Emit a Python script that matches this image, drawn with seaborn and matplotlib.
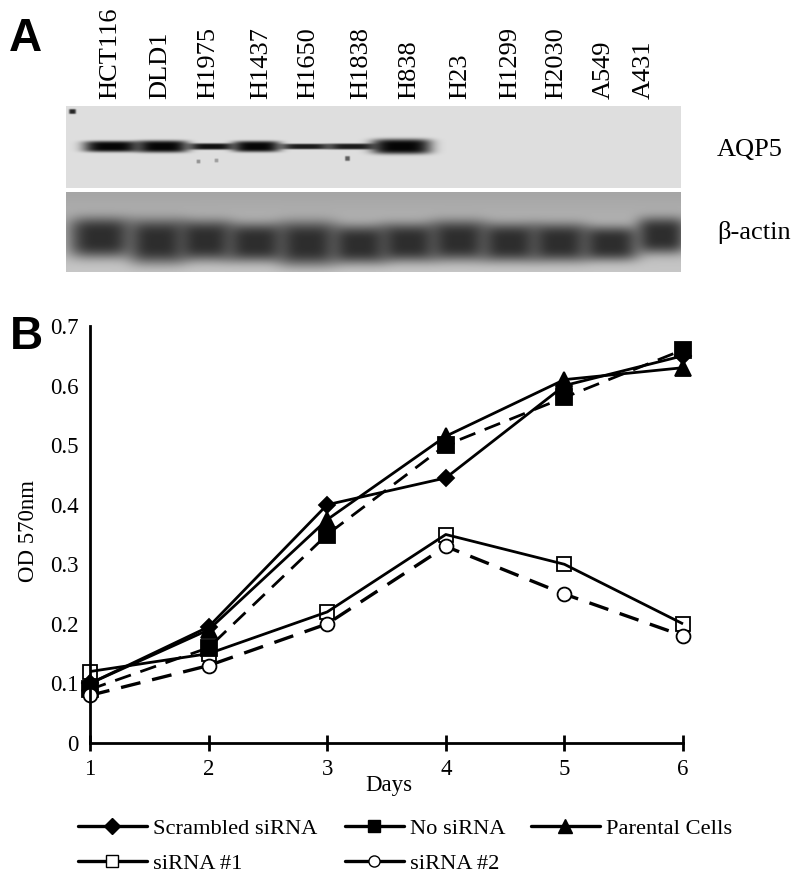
import numpy as np
import pandas as pd
import matplotlib
matplotlib.use('Agg')
import matplotlib.pyplot as plt
from matplotlib.lines import Line2D
import seaborn as sns

# growth curve values
days = [1, 2, 3, 4, 5, 6]
scrambled = [0.10, 0.195, 0.40, 0.445, 0.60, 0.65]
no_sirna = [0.09, 0.16, 0.35, 0.50, 0.58, 0.66]
parental = [0.10, 0.19, 0.375, 0.515, 0.61, 0.63]
sirna_1 = [0.12, 0.15, 0.22, 0.35, 0.30, 0.20]
sirna_2 = [0.08, 0.13, 0.20, 0.33, 0.25, 0.18]
y_ticks = [0, 0.1, 0.2, 0.3, 0.4, 0.5, 0.6, 0.7]
y_labels = ['0', '0.1', '0.2', '0.3', '0.4', '0.5', '0.6', '0.7']

# blot lanes of panel A
lanes = ['HCT116', 'DLD1', 'H1975', 'H1437', 'H1650', 'H1838', 'H838',
         'H23', 'H1299', 'H2030', 'A549', 'A431']
lane_label_x = [110, 160, 208, 261, 308, 361, 409, 460, 510, 556, 604, 644]

# AQP5 bands: centre, half width, half height, darkness
aqp5_x = [111, 162, 211, 256, 305, 351, 401]
aqp5_w = [28, 26, 23, 24, 25, 24, 30]
aqp5_h = [5.5, 6.0, 3.2, 5.5, 2.8, 3.0, 7.5]
aqp5_s = [1.0, 1.0, 0.95, 1.0, 0.9, 0.9, 1.0]

# beta-actin bands
actin_x = [100, 157, 205, 255, 307, 359, 408, 458, 509, 559, 610, 661]
actin_y = [237, 241, 240, 242, 243, 244, 242, 240, 242, 242, 243, 235]
actin_w = [32, 29, 28, 30, 30, 29, 29, 29, 29, 29, 29, 25]
actin_h = [20, 22, 20, 19, 22, 19, 19, 20, 19, 19, 17, 18]

W, H = 800, 880
sns.set_theme(style='white', rc={'text.color': 'black', 'xtick.color': 'black', 'ytick.color': 'black'})
plt.rcParams['font.family'] = ['Liberation Serif', 'DejaVu Serif']


def box(x0, y0, x1, y1):
    # pixel box of the picture -> figure fractions
    return [x0 / W, 1 - y1 / H, (x1 - x0) / W, (y1 - y0) / H]


def blot(ax, cols, rows, top, bg_top, bg_bottom, bands, power):
    xx, yy = np.meshgrid(cols, rows)
    img = np.ones(xx.shape)
    for cx, cy, w, h, s in bands:
        d = np.abs((xx - cx) / w) ** power + np.abs((yy - cy) / h) ** power
        img *= 1 - s * np.exp(-d)
    bg = np.linspace(bg_top, bg_bottom, len(rows))[:, None]
    img = bg + (top - bg) * (1 - img)
    sns.heatmap(img, ax=ax, cmap='gray', vmin=0, vmax=255, cbar=False,
                xticklabels=False, yticklabels=False)
    ax.set_xlabel('')
    ax.set_ylabel('')


fig = plt.figure(figsize=(8, 8.8), dpi=100)

# Panel A
cols = np.arange(66, 681)
ax_a1 = fig.add_axes(box(66, 106, 681, 188))
bands = [(x, 146, w, h, s) for x, w, h, s in zip(aqp5_x, aqp5_w, aqp5_h, aqp5_s)]
bands += [(72, 111, 3.5, 2.5, 0.85), (198, 161, 2, 2, 0.35), (216, 160, 2, 2, 0.3), (347, 158, 2.5, 2.5, 0.6)]
blot(ax_a1, cols, np.arange(106, 188), 5, 222, 222, bands, 4)

ax_a2 = fig.add_axes(box(66, 192, 681, 272))
bands = list(zip(actin_x, actin_y, actin_w, actin_h, [1.0] * 12))
blot(ax_a2, cols, np.arange(192, 272), 45, 165, 198, bands, 3.5)

for name, x in zip(lanes, lane_label_x):
    fig.text(x / W, 1 - 99 / H, name, rotation=90, ha='center', va='bottom', fontsize=19)
fig.text(717 / W, 1 - 150 / H, 'AQP5', ha='left', va='center', fontsize=19)
fig.text(717 / W, 1 - 233 / H, 'β-actin', ha='left', va='center', fontsize=19)
fig.text(9 / W, 1 - 39 / H, 'A', ha='left', va='center', fontsize=33,
         fontweight='bold', family='Liberation Sans')
fig.text(10 / W, 1 - 337 / H, 'B', ha='left', va='center', fontsize=33,
         fontweight='bold', family='Liberation Sans')

# Panel B
names = ['Scrambled siRNA', 'No siRNA', 'Parental Cells', 'siRNA #1', 'siRNA #2']
values = [scrambled, no_sirna, parental, sirna_1, sirna_2]
df = pd.DataFrame({
    'day': days * len(names),
    'od': sum(values, []),
    'series': [n for n in names for _ in days],
})

markers = dict(zip(names, ['D', 's', '^', 's', 'o']))
dashes = dict(zip(names, [(1, 0), (6, 3.6), (1, 0), (1, 0), (6, 3.6)]))
sizes = dict(zip(names, [8, 11, 11, 10.5, 10]))
widths = dict(zip(names, [2.0, 2.0, 2.0, 2.0, 2.4]))
faces = dict(zip(names, ['black', 'black', 'black', 'none', 'white']))

ax = fig.add_axes(box(90, 326, 683, 743))
sns.lineplot(data=df, x='day', y='od', hue='series', style='series', hue_order=names,
             style_order=names, palette=['black'] * 5, markers=markers, dashes=dashes,
             legend=False, ax=ax, clip_on=False, errorbar=None, sort=False)
for line, n in zip(ax.get_lines(), names):
    line.set_linewidth(widths[n])
    line.set_markersize(sizes[n])
    line.set_markerfacecolor(faces[n])
    line.set_markeredgecolor('black')
    line.set_markeredgewidth(1.3)

ax.set_xlim(1, 6)
ax.set_ylim(0, 0.7)
ax.set_xticks(days)
ax.set_yticks(y_ticks)
ax.set_yticklabels(y_labels)
ax.tick_params(axis='x', direction='inout', length=11, width=2, labelsize=16.5, pad=6, bottom=True)
ax.tick_params(axis='y', length=0, labelsize=16.5, pad=8)
for side in ['top', 'right']:
    ax.spines[side].set_visible(False)
for side in ['left', 'bottom']:
    ax.spines[side].set_linewidth(2)
    ax.spines[side].set_color('black')
ax.set_xlabel('')
ax.set_ylabel('')
fig.text(389 / W, 1 - 785 / H, 'Days', ha='center', va='center', fontsize=16.5)
fig.text(28 / W, 1 - 531 / H, 'OD 570nm', rotation=90, ha='center', va='center', fontsize=16.5)

# legend: three columns placed by hand like in the original
legend_cols = [(['Scrambled siRNA', 'siRNA #1'], 78, 3.05),
               (['No siRNA', 'siRNA #2'], 345, 2.6),
               (['Parental Cells'], 531, 3.05)]
for col, x, hl in legend_cols:
    handles = [Line2D([], [], color='black', lw=2.4, marker=markers[n],
                      markersize=8 if n != 'Parental Cells' else 10,
                      markerfacecolor='white' if faces[n] != 'black' else 'black',
                      markeredgecolor='black', label=n) for n in col]
    fig.legend(handles=handles, loc='upper left', bbox_to_anchor=(x / W, 1 - 818 / H),
               frameon=False, fontsize=16.2, handlelength=hl, handletextpad=0.3,
               labelspacing=0.65, borderpad=0, borderaxespad=0)

fig.savefig('out.png', dpi=100)
